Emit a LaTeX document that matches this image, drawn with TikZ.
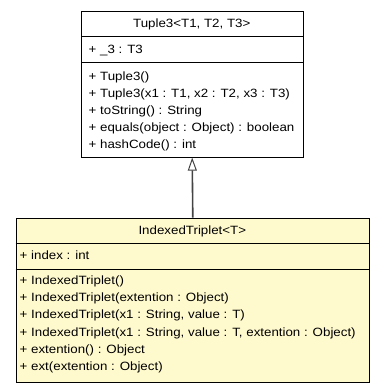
\documentclass[tikz,border=0pt]{standalone}
\usepackage{fontspec}
\setmainfont{Liberation Sans}[FakeStretch=1.11]
\usetikzlibrary{arrows.meta}
\definecolor{classfill}{RGB}{255,250,205}
\definecolor{edgegray}{RGB}{68,68,68}
\tikzset{
  classbox/.style={draw=black, line width=0.9pt, inner sep=0pt, anchor=north west},
  member/.style={anchor=base west, inner sep=0pt, font=\fontsize{12}{14}\selectfont},
  title/.style={anchor=base, inner sep=0pt, font=\fontsize{12}{14}\selectfont},
  divider/.style={draw=black, line width=0.9pt},
  inherit/.style={draw=edgegray, line width=1.6pt, -{Triangle[open, length=13pt, width=9pt, line width=1pt]}}
}
\begin{document}
\begin{tikzpicture}[x=1pt,y=-1pt]
\useasboundingbox (0,0) rectangle (384,392);

% base class
\node[classbox, fill=white, minimum width=221.5pt, minimum height=146.2pt] (tuple) at (81,10.5) {};
\draw[divider] (81,36.7) -- (302.5,36.7);
\draw[divider] (81,62.3) -- (302.5,62.3);
\node[title] (tupleName) at (191.75,27.8) {Tuple3<T1, T2, T3>};
\node[member] (tupleA1) at (88.5,53.6) {+ \_3 : T3};
\node[member] (tupleM1) at (88.5,80) {+ Tuple3()};
\node[member] (tupleM2) at (88.5,97) {+ Tuple3(x1 : T1, x2 : T2, x3 : T3)};
\node[member] (tupleM3) at (88.5,114) {+ toString() : String};
\node[member] (tupleM4) at (88.5,131) {+ equals(object : Object) : boolean};
\node[member] (tupleM5) at (88.5,148) {+ hashCode() : int};

% derived class
\node[classbox, fill=classfill, minimum width=353.3pt, minimum height=164pt] (triplet) at (15.7,217.7) {};
\draw[divider] (15.7,243.5) -- (369,243.5);
\draw[divider] (15.7,269) -- (369,269);
\node[title] (tripletName) at (192.35,234.6) {IndexedTriplet<T>};
\node[member] (tripletA1) at (19.5,259.2) {+ index : int};
\node[member] (tripletM1) at (19.5,284.5) {+ IndexedTriplet()};
\node[member] (tripletM2) at (19.5,301.7) {+ IndexedTriplet(extention : Object)};
\node[member] (tripletM3) at (19.5,318.9) {+ IndexedTriplet(x1 : String, value : T)};
\node[member] (tripletM4) at (19.5,336.1) {+ IndexedTriplet(x1 : String, value : T, extention : Object)};
\node[member] (tripletM5) at (19.5,353.3) {+ extention() : Object};
\node[member] (tripletM6) at (19.5,370.5) {+ ext(extention : Object)};

% generalisation
\draw[inherit] (triplet.north) -- (tuple.south);
\end{tikzpicture}
\end{document}
